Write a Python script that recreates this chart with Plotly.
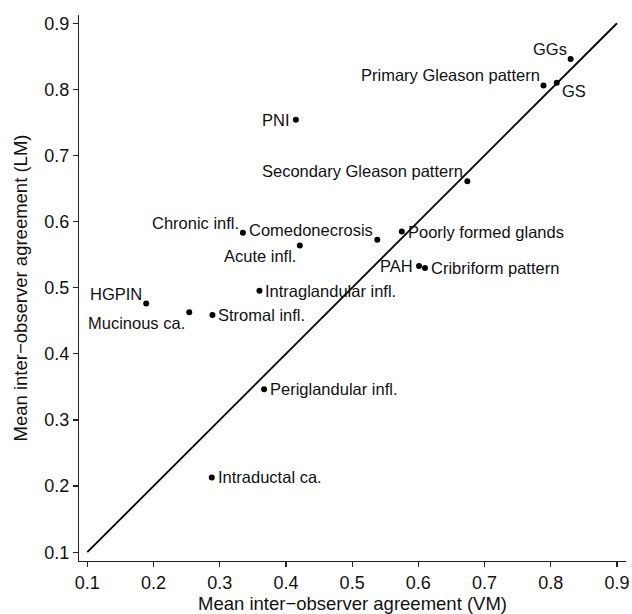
import plotly.graph_objects as go

# ---- data ----
names = ["GGs", "Primary Gleason pattern", "GS", "PNI", "Secondary Gleason pattern",
         "Chronic infl.", "Comedonecrosis", "Acute infl.", "Poorly formed glands",
         "PAH", "Cribriform pattern", "Intraglandular infl.", "HGPIN", "Mucinous ca.",
         "Stromal infl.", "Periglandular infl.", "Intraductal ca."]
vm = [0.830, 0.789, 0.809, 0.415, 0.674, 0.335, 0.538, 0.421, 0.575,
      0.601, 0.610, 0.360, 0.189, 0.254, 0.289, 0.367, 0.288]
lm = [0.846, 0.806, 0.810, 0.754, 0.661, 0.583, 0.5725, 0.564, 0.585,
      0.533, 0.530, 0.4955, 0.476, 0.463, 0.4586, 0.3465, 0.213]
label_side = ["tl", "tl", "br", "l", "tl", "tl", "tl", "bl", "r",
              "l", "r", "r", "tl", "bl", "r", "r", "r"]
diag = [0.1, 0.9]
tick_vals = [0.1, 0.2, 0.3, 0.4, 0.5, 0.6, 0.7, 0.8, 0.9]
tick_text = ["0.1", "0.2", "0.3", "0.4", "0.5", "0.6", "0.7", "0.8", "0.9"]
x_title = "Mean inter\u2212observer agreement (VM)"
y_title = "Mean inter\u2212observer agreement (LM)"

FONT = "Liberation Sans, Arial, Helvetica, sans-serif"

fig = go.Figure()
fig.add_trace(go.Scatter(x=diag, y=diag, mode="lines",
                         line=dict(color="black", width=1.8), hoverinfo="skip"))
fig.add_trace(go.Scatter(x=vm, y=lm, mode="markers",
                         marker=dict(color="black", size=6), hoverinfo="skip"))

placement = {
    "l": dict(xanchor="right", yanchor="middle", xshift=-5, yshift=0),
    "r": dict(xanchor="left", yanchor="middle", xshift=5, yshift=0),
    "tl": dict(xanchor="right", yanchor="middle", xshift=-3, yshift=10),
    "bl": dict(xanchor="right", yanchor="middle", xshift=-3, yshift=-11),
    "br": dict(xanchor="left", yanchor="middle", xshift=4, yshift=-8),
}
for n, x, y, s in zip(names, vm, lm, label_side):
    fig.add_annotation(x=x, y=y, text=n, showarrow=False, borderpad=0,
                       font=dict(family=FONT, size=16.5, color="#111"),
                       **placement[s])

axis_common = dict(
    tickvals=tick_vals, ticktext=tick_text, showgrid=False, zeroline=False,
    showline=True, linecolor="#222", linewidth=1.2, ticks="outside",
    ticklen=5, tickwidth=1.2, tickcolor="#222", automargin=False,
    tickfont=dict(family=FONT, size=18, color="#111"),
)
fig.update_xaxes(range=[0.0875, 0.9136],
                 title=dict(text=x_title, font=dict(family=FONT, size=18.5, color="#111"),
                            standoff=6),
                 **axis_common)
fig.update_yaxes(range=[0.0867, 0.9125],
                 title=dict(text=y_title, font=dict(family=FONT, size=18.5, color="#111"),
                            standoff=11),
                 **axis_common)

fig.update_layout(
    width=632, height=614, showlegend=False,
    plot_bgcolor="white", paper_bgcolor="white",
    margin=dict(l=79, r=6, t=15, b=53),
    font=dict(family=FONT),
)
fig.write_html("out.html",
               config={"displayModeBar": False, "staticPlot": True},
               post_script="document.body.style.margin='0';"
                           "document.body.style.overflow='hidden';")
